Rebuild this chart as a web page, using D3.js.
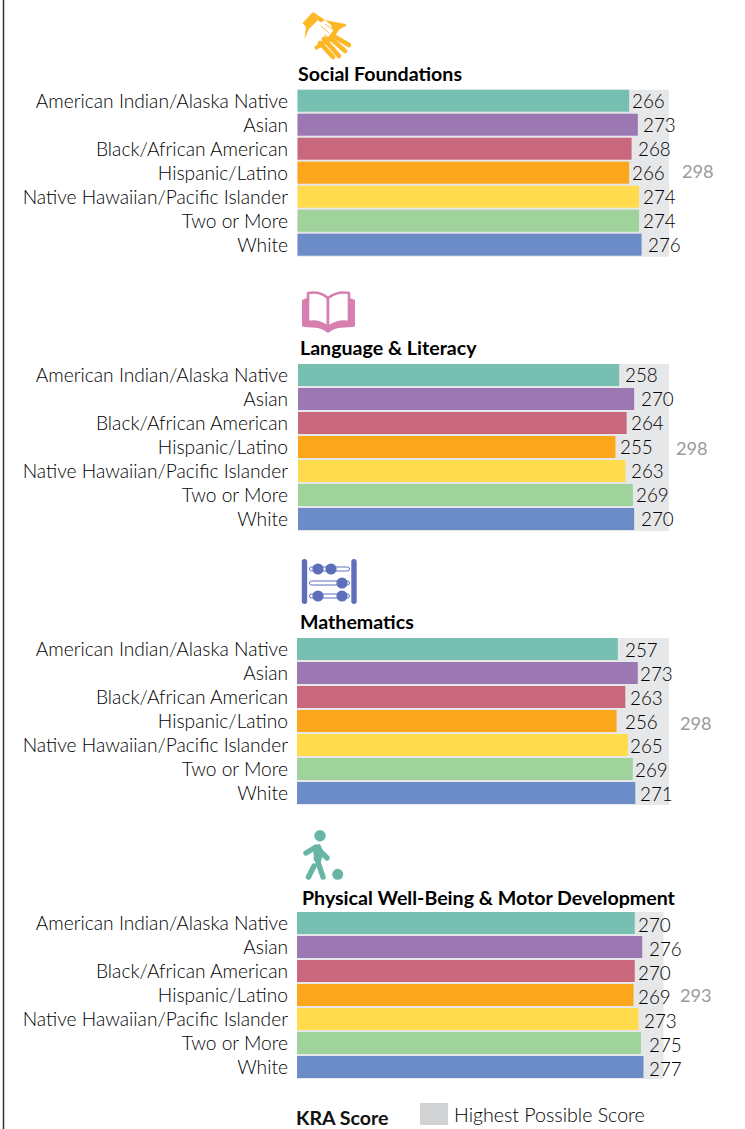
<!DOCTYPE html>
<html><head><meta charset="utf-8">
<script src="https://cdn.jsdelivr.net/npm/d3@7"></script>
<style>html,body{margin:0;padding:0;background:#fff}svg{display:block}text{font-family:"Lato",sans-serif}</style>
</head><body><div id="c"></div>
<script>
// ---- data ----
const categories = ["American Indian/Alaska Native","Asian","Black/African American","Hispanic/Latino","Native Hawaiian/Pacific Islander","Two or More","White"];
const sectionTitles = ["Social Foundations","Language & Literacy","Mathematics","Physical Well-Being & Motor Development"];
const socialFoundations = [266,273,268,266,274,274,276];
const languageLiteracy = [258,270,264,255,263,269,270];
const mathematics = [257,273,263,256,265,269,271];
const physicalWellBeing = [270,276,270,269,273,275,277];
const highestPossible = [298,298,298,293];
const legendTitle = "KRA Score";
const legendLabel = "Highest Possible Score";

// ---- layout & style ----
const W = 745, H = 1129;
const colors = ["#76bfb1","#9b78b2","#c9687c","#fca61c","#ffdb4d","#9fd39b","#6b8cc7"];
const seriesBySection = [socialFoundations, languageLiteracy, mathematics, physicalWellBeing];
const layout = [
  {x0:297.5, top:89.7, xMax:669, titleX:298, titleY:81,  totalX:682, totalY:178, labelX:[632,643,638,632,643,643,648], dy:1},
  {x0:298,   top:364, xMax:669, titleX:300, titleY:355, totalX:676, totalY:455, labelX:[625,641,631,620,631,636,641], dy:1},
  {x0:297,   top:638, xMax:669, titleX:300, titleY:629, totalX:680, totalY:730, labelX:[625,640,630,625,630,635,640], dy:2},
  {x0:297,   top:912, xMax:663.5, titleX:302, titleY:905, totalX:680, totalY:1002, labelX:[638,649,638,638,644,649,649], dy:3}
];

const svg = d3.select("#c").append("svg").attr("width",W).attr("height",H).attr("viewBox",[0,0,W,H]);
svg.append("line").attr("x1",3.5).attr("x2",3.5).attr("y1",0).attr("y2",H).attr("stroke","#333").attr("stroke-width",1.5);

const LABEL_SIZE = 19.2, VALUE_SIZE = 18.8, TOTAL_SIZE = 18.2, TITLE_SIZE = 19.6, labelColor = "#000", WEIGHT = 300;

seriesBySection.forEach((values,s)=>{
  const L = layout[s];
  const x = d3.scaleLinear().domain([0,highestPossible[s]]).range([L.x0,L.xMax]);
  const y = d3.scaleBand().domain(categories).range([L.top, L.top+166]).paddingInner(2/24).paddingOuter(0);
  const g = svg.append("g");
  g.append("rect").attr("x",x(0)).attr("y",L.top).attr("width",x(highestPossible[s])-x(0)).attr("height",167).attr("fill","#e6e7e9");
  g.selectAll("rect.bar").data(values).join("rect").attr("class","bar")
    .attr("x",x(0)).attr("y",(d,i)=>y(categories[i])).attr("width",d=>x(d)-x(0)).attr("height",y.bandwidth())
    .attr("fill",(d,i)=>colors[i]);
  g.selectAll("text.cat").data(categories).join("text").attr("class","cat")
    .attr("x",288).attr("y",d=>y(d)+18).attr("text-anchor","end").attr("font-weight",WEIGHT)
    .attr("font-size",LABEL_SIZE).attr("fill",labelColor).text(d=>d);
  g.selectAll("text.val").data(values).join("text").attr("class","val").attr("font-weight",WEIGHT)
    .attr("x",(d,i)=>L.labelX[i]).attr("y",(d,i)=>y(categories[i])+17+L.dy)
    .attr("font-size",VALUE_SIZE).attr("fill","#000").text(d=>d);
  g.append("text").attr("x",L.totalX).attr("y",L.totalY).attr("font-size",TOTAL_SIZE).attr("fill","#9a9a9a").text(highestPossible[s]);
  g.append("text").attr("x",L.titleX).attr("y",L.titleY).attr("font-size",TITLE_SIZE).attr("font-weight",700).attr("fill","#000").text(sectionTitles[s]);
});

// legend
svg.append("text").attr("x",296).attr("y",1125).attr("font-size",TITLE_SIZE).attr("font-weight",700).attr("fill","#111").text(legendTitle);
svg.append("rect").attr("x",420).attr("y",1103).attr("width",28).attr("height",22).attr("fill","#d1d2d4");
svg.append("text").attr("x",454).attr("y",1122).attr("font-size",19.6).attr("font-weight",WEIGHT).attr("fill",labelColor).text(legendLabel);

// icons
const yellow="#fdb827", pink="#d77fb0", blue="#5d6fbb", teal="#68b5a5";
const hand = svg.append("g");
hand.append("path").attr("fill",yellow).attr("d","M313,12 L302.5,23 L306,27 L304.5,39 L309,29 L318,20 L331,34 L314,47 L316,50 L330,42 L340,29 L346,26 L346,24 L335,22 L325,20 Z");
[[325,31,349,45],[327,35,345,51],[324,39,339,56],[320,43,333,57]].forEach(f=>{
  hand.append("line").attr("x1",f[0]).attr("y1",f[1]).attr("x2",f[2]).attr("y2",f[3]).attr("stroke",yellow).attr("stroke-width",4.6).attr("stroke-linecap","round");
});
hand.append("path").attr("fill","#fff").attr("d","M305,40 L309,29 L318,24 L325,20 L331,25 L333,31 L328,37 L318,28 L311,33 Z");
[[321,26,329,33],[325,24,332,29]].forEach(f=>{
  hand.append("line").attr("x1",f[0]).attr("y1",f[1]).attr("x2",f[2]).attr("y2",f[3]).attr("stroke",yellow).attr("stroke-width",0.9);
});

const book = svg.append("g");
book.append("path").attr("fill",pink).attr("d","M302,300 L307,298 L350,298 L355,300 L355,325 Q355,327 352,327 L338,328 Q333,329 328,333 Q323,329 318,328 L305,327 Q302,327 302,325 Z");
book.append("path").attr("fill","#fff").attr("stroke",pink).attr("stroke-width",2.6).attr("stroke-linejoin","round").attr("d","M308,293 Q320,291 328,298 L328,327 Q319,320 308,322 Z");
book.append("path").attr("fill","#fff").attr("stroke",pink).attr("stroke-width",2.6).attr("stroke-linejoin","round").attr("d","M349,293 Q337,291 328,298 L328,327 Q338,320 349,322 Z");

const abacus = svg.append("g");
[304.5,354].forEach(cx=>abacus.append("rect").attr("x",cx-2.7).attr("y",559).attr("width",5.4).attr("height",45).attr("rx",2.7).attr("fill",blue));
[[569,[318,331]],[583,[342]],[596,[318,342]]].forEach(([ry,beads])=>{
  abacus.append("rect").attr("x",309.5).attr("y",ry-2).attr("width",40).attr("height",4).attr("rx",2).attr("fill","#fff").attr("stroke",blue).attr("stroke-width",1);
  beads.forEach(b=>abacus.append("circle").attr("fill",blue).attr("cx",b).attr("cy",ry).attr("r",5.6));
});

const player = svg.append("g");
player.append("circle").attr("cx",320).attr("cy",835.7).attr("r",5.7).attr("fill",teal);
player.append("circle").attr("cx",337.7).attr("cy",874.3).attr("r",5.5).attr("fill",teal);
player.append("path").attr("fill",teal).attr("d","M313,846 L320,844 L323,851 L321,862 L314,861 Z");
player.append("path").attr("fill","none").attr("stroke",teal).attr("stroke-width",5.4).attr("stroke-linejoin","round").attr("stroke-linecap","round").attr("d","M316,847 L306,853 M319,850 L327,858 M317,859 L323,877 M314,866 L308.5,877");
</script></body></html>
